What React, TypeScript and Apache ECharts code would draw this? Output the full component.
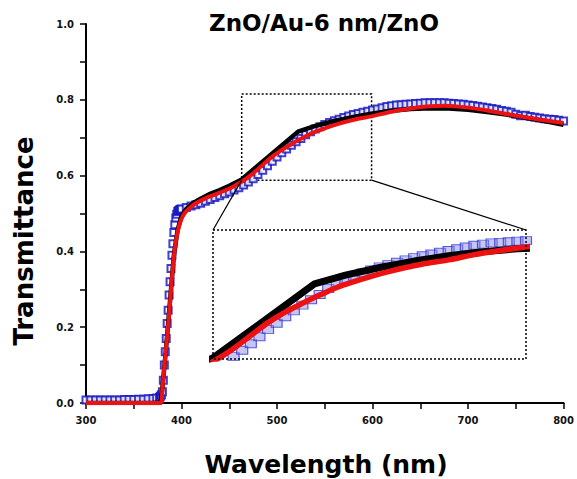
import React, { useEffect, useRef } from "react";
import * as echarts from "echarts";

// ---- data ----
const blueWl = [300, 305, 310, 315, 320, 325, 330, 335, 340, 345, 350, 355, 360, 365, 370, 374, 377, 378, 379, 380, 381, 382, 383, 384, 385, 386, 387, 388, 389, 390, 391, 392, 393, 394, 395, 396, 397, 398, 399,
  400, 405, 410, 415, 420, 425, 430, 435, 440, 445, 450, 455, 460, 465, 470, 475, 480, 485, 490, 495, 500, 505, 510, 515, 520, 525, 530, 535, 540, 545, 550, 555, 560, 565, 570, 575, 580, 585, 590, 595,
  600, 605, 610, 615, 620, 625, 630, 635, 640, 645, 650, 655, 660, 665, 670, 675, 680, 685, 690, 695, 700, 705, 710, 715, 720, 725, 730, 735, 740, 745, 750, 755, 760, 765, 770, 775, 780, 785, 790, 795, 800];
const blueT = [0.008, 0.008, 0.008, 0.008, 0.008, 0.008, 0.008, 0.008, 0.009, 0.009, 0.009, 0.01, 0.01, 0.011, 0.012, 0.013, 0.015, 0.018, 0.022, 0.03, 0.06, 0.1, 0.135, 0.17, 0.21, 0.245, 0.285, 0.32, 0.355, 0.39, 0.42, 0.45, 0.47, 0.488, 0.498, 0.505, 0.508, 0.51, 0.511,
  0.512, 0.516, 0.52, 0.523, 0.527, 0.532, 0.537, 0.542, 0.547, 0.552, 0.557, 0.562, 0.568, 0.575, 0.583, 0.592, 0.603, 0.614, 0.626, 0.638, 0.649, 0.66, 0.67, 0.68, 0.689, 0.698, 0.708, 0.716, 0.723, 0.729, 0.735, 0.74, 0.745, 0.749, 0.753, 0.757, 0.761, 0.764, 0.767, 0.77,
  0.773, 0.776, 0.779, 0.782, 0.784, 0.786, 0.787, 0.788, 0.789, 0.79, 0.791, 0.792, 0.792, 0.792, 0.792, 0.792, 0.791, 0.79, 0.789, 0.788, 0.786, 0.785, 0.783, 0.781, 0.779, 0.777, 0.775, 0.772, 0.77, 0.767, 0.762, 0.758, 0.759, 0.756, 0.754, 0.752, 0.75, 0.749, 0.748, 0.746, 0.744];

const redWl = [300, 378, 380, 382, 384, 386, 388, 390, 392, 394, 396, 398, 400, 403, 408, 415, 425, 435, 445, 455, 465, 475, 485, 495, 505, 515, 525, 535, 545, 555, 565, 575, 585, 600, 615, 630, 645, 660, 675, 690, 705, 720, 735, 750, 765, 780, 800];
const redT = [0.0, 0.0, 0.04, 0.095, 0.15, 0.205, 0.265, 0.33, 0.385, 0.425, 0.452, 0.472, 0.486, 0.5, 0.513, 0.527, 0.54, 0.55, 0.56, 0.572, 0.587, 0.606, 0.628, 0.65, 0.668, 0.683, 0.697, 0.71, 0.72, 0.729, 0.737, 0.744, 0.75, 0.757, 0.766, 0.773, 0.779, 0.783, 0.784, 0.782, 0.778, 0.772, 0.765, 0.758, 0.752, 0.746, 0.739];

const blackWl = [300, 378, 380, 384, 388, 392, 396, 400, 405, 412, 420, 430, 440, 450, 463, 522, 540, 560, 580, 600, 620, 640, 660, 680, 700, 720, 740, 760, 780, 800];
const blackT = [0.0, 0.0, 0.04, 0.15, 0.27, 0.39, 0.458, 0.492, 0.512, 0.527, 0.539, 0.552, 0.562, 0.573, 0.59, 0.716, 0.731, 0.744, 0.755, 0.764, 0.771, 0.776, 0.778, 0.777, 0.774, 0.768, 0.761, 0.753, 0.744, 0.734];

const xTickLabels = ["300", "400", "500", "600", "700", "800"];
const yTickLabels = ["0.0", "0.2", "0.4", "0.6", "0.8", "1.0"];

const zoomBox = { x0: 463, x1: 599, y0: 0.588, y1: 0.815 };
const insetRange = { x0: 463, x1: 645, y0: 0.588, y1: 0.808 };

const titleText = "ZnO/Au-6 nm/ZnO";
const xName = "Wavelength (nm)";
const yName = "Transmittance";

// ---- layout ----
const W = 577;
const H = 479;
const MAIN = { left: 86, top: 24, width: 478, height: 379 };
const INSET = { left: 213, top: 230, width: 313, height: 129 };
const FONT = '"DejaVu Sans", "Liberation Sans", Arial, sans-serif';
const RED = "#ee1111";
const BLUE = "#1010c0";

const pairs = (xs: number[], ys: number[]) => xs.map((x, i) => [x, ys[i]]);

export default function App() {
  const ref = useRef<HTMLDivElement>(null);
  useEffect(() => {
    if (!ref.current) return;
    const chart = echarts.init(ref.current, undefined, { renderer: "svg", width: W, height: H });
    const blue = pairs(blueWl, blueT);
    const red = pairs(redWl, redT);
    const black = pairs(blackWl, blackT);
    const axisLabelBase = { fontFamily: FONT, fontWeight: "bold" as const, fontSize: 10, color: "#111" };
    const option: any = {
      animation: false,
      backgroundColor: "#fff",
      grid: [
        { left: MAIN.left, top: MAIN.top, width: MAIN.width, height: MAIN.height, containLabel: false },
        { left: INSET.left, top: INSET.top, width: INSET.width, height: INSET.height, containLabel: false },
      ],
      xAxis: [
        {
          gridIndex: 0, type: "value", min: 300, max: 800, interval: 50,
          axisLine: { lineStyle: { color: "#000", width: 2 } },
          axisTick: { inside: false, length: 6, lineStyle: { color: "#000", width: 1.5 } },
          splitLine: { show: false },
          axisLabel: { ...axisLabelBase, margin: 12, formatter: (v: number) => (xTickLabels.includes(String(v)) ? String(v) : "") },
        },
        { gridIndex: 1, type: "value", min: insetRange.x0, max: insetRange.x1, show: false },
      ],
      yAxis: [
        {
          gridIndex: 0, type: "value", min: 0, max: 1, interval: 0.1,
          axisLine: { show: true, lineStyle: { color: "#000", width: 2 } },
          axisTick: { show: true, inside: false, length: 6, lineStyle: { color: "#000", width: 1.5 } },
          splitLine: { show: false },
          axisLabel: {
            ...axisLabelBase, margin: 12,
            formatter: (v: number) => { const s = v.toFixed(1); return yTickLabels.includes(s) ? s : ""; },
          },
        },
        { gridIndex: 1, type: "value", min: insetRange.y0, max: insetRange.y1, show: false },
      ],
      series: [
        {
          type: "scatter", xAxisIndex: 0, yAxisIndex: 0, data: blue, symbol: "emptyRect", symbolSize: 7,
          itemStyle: { color: BLUE, borderColor: BLUE, borderWidth: 2.4 }, z: 2, silent: true,
        },
        {
          type: "line", xAxisIndex: 0, yAxisIndex: 0, data: black, showSymbol: false, symbol: "none",
          lineStyle: { color: "#000", width: 4.5 }, z: 3, silent: true,
          markArea: {
            silent: true,
            itemStyle: { color: "rgba(0,0,0,0)", borderColor: "#000", borderWidth: 1.5, borderType: [2, 2] },
            data: [[{ coord: [zoomBox.x0, zoomBox.y1] }, { coord: [zoomBox.x1, zoomBox.y0] }]],
          },
        },
        {
          type: "line", xAxisIndex: 0, yAxisIndex: 0, data: red, showSymbol: false, symbol: "none", smooth: 0.3,
          lineStyle: { color: RED, width: 4 }, z: 4, silent: true,
        },
        {
          type: "scatter", xAxisIndex: 1, yAxisIndex: 1, data: blue, symbol: "rect", symbolSize: [11, 8], clip: true,
          itemStyle: { color: "rgba(135,135,232,0.6)", borderColor: "#3434d6", borderWidth: 1 }, z: 2, silent: true,
        },
        {
          type: "line", xAxisIndex: 1, yAxisIndex: 1, data: black, showSymbol: false, symbol: "none", clip: true,
          lineStyle: { color: "#000", width: 7 }, z: 3, silent: true,
        },
        {
          type: "line", xAxisIndex: 1, yAxisIndex: 1, data: red, showSymbol: false, symbol: "none", smooth: 0.3, clip: true,
          lineStyle: { color: RED, width: 5.5 }, z: 4, silent: true,
        },
      ],
    };
    chart.setOption(option);

    const bl = chart.convertToPixel({ gridIndex: 0 }, [zoomBox.x0, zoomBox.y0]) as number[];
    const br = chart.convertToPixel({ gridIndex: 0 }, [zoomBox.x1, zoomBox.y0]) as number[];
    const textStyle = (text: string, size: number) => ({
      text, fontFamily: FONT, fontWeight: "bold", fontSize: size, fill: "#000",
      align: "center", verticalAlign: "middle",
    });
    chart.setOption({
      graphic: [
        {
          type: "rect", silent: true, z: 100,
          shape: { x: INSET.left, y: INSET.top, width: INSET.width, height: INSET.height },
          style: { fill: "none", stroke: "#000", lineWidth: 1.5, lineDash: [2, 2] },
        },
        {
          type: "line", silent: true, z: 100,
          shape: { x1: bl[0], y1: bl[1], x2: INSET.left, y2: INSET.top },
          style: { stroke: "#000", lineWidth: 1.2 },
        },
        {
          type: "line", silent: true, z: 100,
          shape: { x1: br[0], y1: br[1], x2: INSET.left + INSET.width, y2: INSET.top },
          style: { stroke: "#000", lineWidth: 1.2 },
        },
        { type: "text", silent: true, x: 324, y: 23, style: textStyle(titleText, 23) },
        { type: "text", silent: true, x: 326, y: 464, style: textStyle(xName, 25) },
        { type: "text", silent: true, x: 24, y: 241, rotation: Math.PI / 2, style: textStyle(yName, 26) },
      ],
    });
    return () => chart.dispose();
  }, []);
  return <div ref={ref} style={{ position: "absolute", left: 0, top: 0, width: W, height: H, background: "#fff" }} />;
}
